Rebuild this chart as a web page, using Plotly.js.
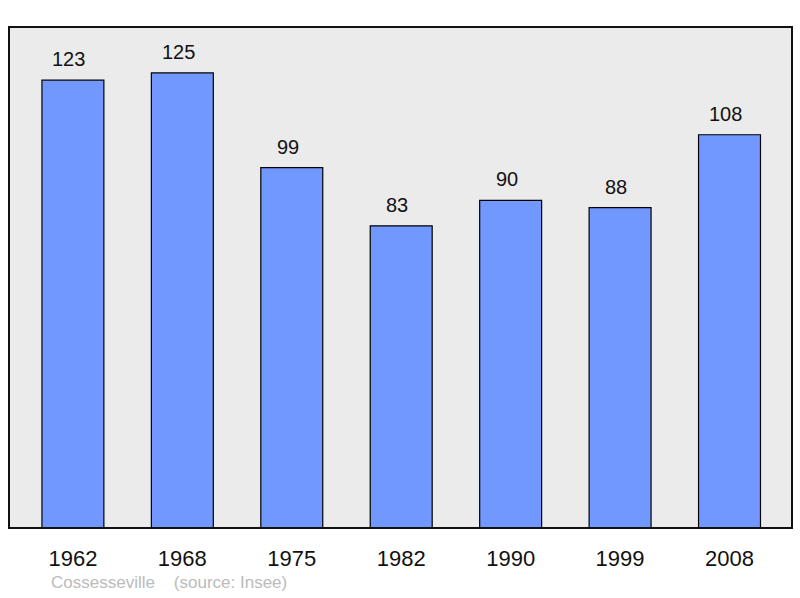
<!DOCTYPE html>
<html><head><meta charset="utf-8">
<script src="https://cdn.plot.ly/plotly-3.0.1.min.js"></script>
<style>body{margin:0;padding:0;background:#fff}#chart{width:800px;height:598px}</style>
</head><body><div id="chart"></div>
<script>
const years = ['1962','1968','1975','1982','1990','1999','2008'];
const population = [123,125,99,83,90,88,108];
const footer = 'Cossesseville\u00a0\u00a0\u00a0\u00a0(source: Insee)';

const idx = years.map((_, i) => i);
const trace = {
  type: 'bar', x: idx, y: population, width: 0.566,
  marker: {color: '#7098ff', line: {color: '#000', width: 1.2}},
  hoverinfo: 'none'
};
const annotations = population.map((v, i) => ({
  x: i, y: v, xref: 'x', yref: 'y', text: String(v), showarrow: false,
  yanchor: 'middle', yshift: 21, xshift: -4,
  font: {family: 'Liberation Sans, Arial, sans-serif', size: 20, color: '#111'}
}));
annotations.push({
  xref: 'paper', yref: 'paper', x: (49-9)/783, y: -54/501, xanchor: 'left', yanchor: 'middle',
  text: footer, showarrow: false,
  font: {family: 'Liberation Sans, Arial, sans-serif', size: 17, color: '#bbbbbb'}
});
const layout = {
  width: 800, height: 598,
  margin: {l: 9, r: 8, t: 27, b: 70},
  paper_bgcolor: '#fff', plot_bgcolor: '#ebebeb',
  showlegend: false,
  xaxis: {range: [-0.584, 6.571], tickvals: idx, ticktext: years, showgrid: false, zeroline: false,
    ticks: '', ticklabelstandoff: 15,
    tickfont: {family: 'Liberation Sans, Arial, sans-serif', size: 22, color: '#111'}, fixedrange: true},
  yaxis: {range: [0, 137.6], showgrid: false, zeroline: false, showticklabels: false, ticks: '', fixedrange: true},
  annotations: annotations,
  shapes: [{type: 'rect', xref: 'paper', yref: 'paper', x0: 0, x1: 1, y0: 0, y1: 1,
    line: {color: '#111', width: 2}, fillcolor: 'rgba(0,0,0,0)'}]
};
Plotly.newPlot('chart', [trace], layout, {displayModeBar: false, staticPlot: true});
</script></body></html>
